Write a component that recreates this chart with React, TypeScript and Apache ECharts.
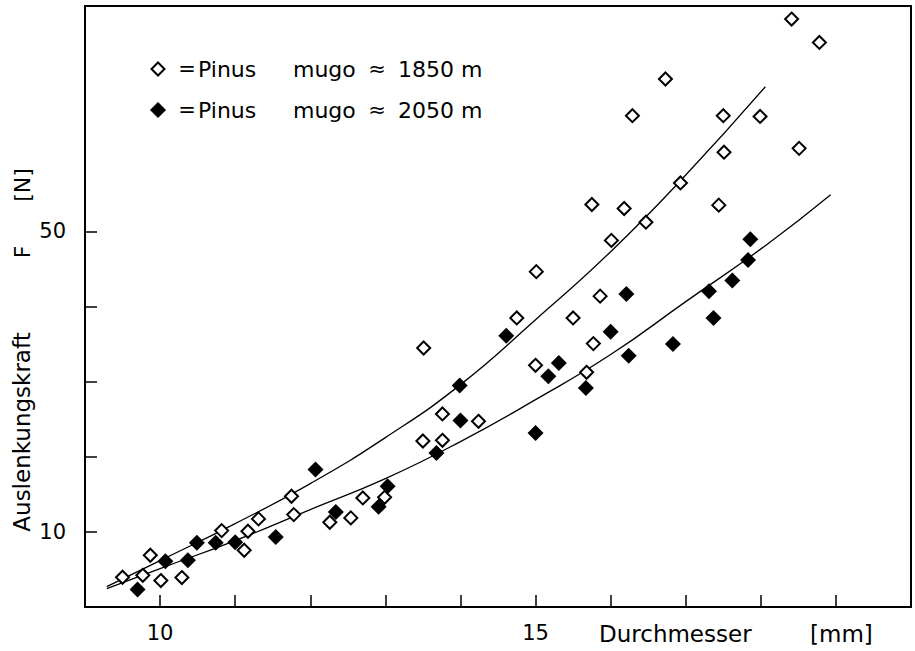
import React, { useEffect, useRef } from "react";
import * as echarts from "echarts";

// Axis ticks / labels
const xTicks = [10, 11, 12, 13, 14, 15, 16, 17, 18, 19];
const xLabels = [10, 15];
const yTicks = [10, 20, 30, 40, 50];
const yLabels = [10, 50];

// Pinus mugo ≈ 1850 m (open diamonds): [Durchmesser mm, Kraft N]
const pinus1850 = [
  [9.5, 3.96], [9.77, 4.22], [9.87, 6.89], [10.01, 3.52], [10.29, 3.92],
  [10.82, 10.17], [11.12, 7.55], [11.17, 10.08], [11.31, 11.73], [11.75, 14.74],
  [11.78, 12.3], [12.26, 11.28], [12.54, 11.86], [12.7, 14.52], [12.99, 14.6],
  [13.5, 22.1], [13.76, 25.7], [13.76, 22.19], [14.24, 24.72], [13.51, 34.48],
  [14.75, 38.48], [15.01, 44.64], [15.0, 32.17], [15.5, 38.48], [15.68, 31.24],
  [15.77, 35.06], [15.86, 41.38], [15.75, 53.58], [16.01, 48.8], [16.18, 53.05],
  [16.29, 65.4], [16.47, 51.22], [16.73, 70.28], [16.93, 56.45], [17.5, 65.4],
  [17.51, 60.54], [17.44, 53.49], [17.99, 65.3], [18.41, 78.26], [18.51, 61.05],
  [18.78, 75.15],
];

// Pinus mugo ≈ 2050 m (filled diamonds)
const pinus2050 = [
  [9.7, 2.32], [10.07, 6.09], [10.37, 6.22], [10.49, 8.54], [10.74, 8.54],
  [11.0, 8.62], [11.54, 9.33], [12.07, 18.29], [12.34, 12.66], [12.91, 13.33],
  [13.03, 16.07], [13.68, 20.51], [14.0, 24.81], [13.99, 29.47], [14.61, 36.12],
  [15.0, 23.17], [15.17, 30.71], [15.31, 32.49], [15.67, 29.16], [16.21, 41.68],
  [16.0, 36.65], [16.24, 33.46], [16.83, 35.02], [17.31, 42.02], [17.37, 38.48],
  [17.62, 43.47], [17.83, 46.19], [17.86, 48.94],
];

// Fitted curves
const fit1850 = [
  [9.29, 2.72], [10, 6.18], [11, 11.1], [12, 16.43], [13, 22.55],
  [14, 29.6], [15, 38.25], [16, 47.3], [17, 57.5], [18.06, 69.25],
];
const fit2050 = [
  [9.29, 2.46], [10, 5.12], [11, 8.84], [12, 12.97], [13, 17.09],
  [14, 22.02], [15, 27.6], [16, 33.6], [17, 40.65], [18.06, 48.1], [18.93, 54.88],
];

const FONT = "DejaVu Sans";

function txt(text: string, x: number, y: number, size: number, align = "left", rotation = 0) {
  return {
    type: "text",
    x,
    y,
    rotation,
    style: {
      text,
      fill: "#000",
      fontSize: size,
      fontFamily: FONT,
      align,
      textAlign: align,
      verticalAlign: "middle",
      textVerticalAlign: "middle",
    },
  };
}

function diamond(cx: number, cy: number, r: number, filled: boolean) {
  return {
    type: "polygon",
    shape: { points: [[cx, cy - r], [cx + r, cy], [cx, cy + r], [cx - r, cy]] },
    style: filled
      ? { fill: "#000", stroke: "#000", lineWidth: 1 }
      : { fill: "#fff", stroke: "#000", lineWidth: 2 },
  };
}

export default function App() {
  const ref = useRef<HTMLDivElement>(null);
  useEffect(() => {
    const chart = echarts.init(ref.current!, null, { renderer: "svg" });
    chart.setOption({
      animation: false,
      backgroundColor: "#fff",
      grid: {
        left: 85,
        top: 6,
        width: 826,
        height: 601,
        show: true,
        borderColor: "#000",
        borderWidth: 2,
        backgroundColor: "transparent",
      },
      xAxis: {
        type: "value",
        min: 9,
        max: 20,
        axisLine: { show: true, onZero: false, lineStyle: { color: "#000", width: 2 } },
        axisTick: { show: true, inside: true, length: 12, customValues: xTicks, lineStyle: { color: "#000", width: 1.5 } },
        axisLabel: { customValues: xLabels, margin: 15, color: "#000", fontSize: 21, fontFamily: FONT },
        splitLine: { show: false },
      },
      yAxis: {
        type: "value",
        min: 0,
        max: 80,
        axisLine: { show: true, onZero: false, lineStyle: { color: "#000", width: 2 } },
        axisTick: { show: true, inside: true, length: 12, customValues: yTicks, lineStyle: { color: "#000", width: 1.5 } },
        axisLabel: { customValues: yLabels, margin: 19, color: "#000", fontSize: 21, fontFamily: FONT },
        splitLine: { show: false },
      },
      series: [
        {
          type: "line",
          data: fit1850,
          smooth: true,
          showSymbol: false,
          silent: true,
          lineStyle: { color: "#000", width: 1.3 },
          z: 1,
        },
        {
          type: "line",
          data: fit2050,
          smooth: true,
          showSymbol: false,
          silent: true,
          lineStyle: { color: "#000", width: 1.3 },
          z: 1,
        },
        {
          type: "scatter",
          data: pinus1850,
          symbol: "diamond",
          symbolSize: 13,
          itemStyle: { color: "#fff", borderColor: "#000", borderWidth: 2, opacity: 1 },
          z: 2,
        },
        {
          type: "scatter",
          data: pinus2050,
          symbol: "diamond",
          symbolSize: 16,
          itemStyle: { color: "#000", opacity: 1 },
          z: 3,
        },
      ],
      graphic: [
        diamond(158, 69, 6.5, false),
        txt("=", 187, 69, 21, "center"),
        txt("Pinus", 198, 69, 22),
        txt("mugo", 293, 69, 22),
        txt("≈", 377, 69, 21, "center"),
        txt("1850 m", 398, 69, 22),
        diamond(158, 110, 7.5, true),
        txt("=", 187, 110, 21, "center"),
        txt("Pinus", 198, 110, 22),
        txt("mugo", 293, 110, 22),
        txt("≈", 377, 110, 21, "center"),
        txt("2050 m", 398, 110, 22),
        txt("Durchmesser", 599, 634, 23),
        txt("[mm]", 810, 634, 23),
        txt("Auslenkungskraft", 22, 432, 23, "center", Math.PI / 2),
        txt("F", 22, 252, 22, "center", Math.PI / 2),
        txt("[N]", 22, 185, 22, "center", Math.PI / 2),
      ],
    });
    return () => chart.dispose();
  }, []);
  return (
    <div
      ref={ref}
      style={{ position: "fixed", left: 0, top: 0, width: 915, height: 651, background: "#fff" }}
    />
  );
}
